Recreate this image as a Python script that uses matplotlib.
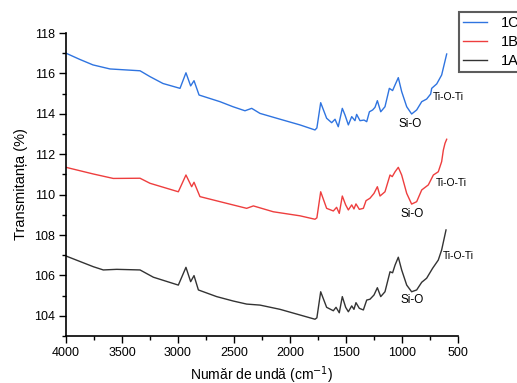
import matplotlib
matplotlib.use("Agg")
import matplotlib.pyplot as plt
from matplotlib.ticker import MultipleLocator

plt.rcParams['font.family'] = ['Liberation Sans', 'DejaVu Sans']

# ---- data ----
wn_1C = [4000, 3880, 3759, 3607, 3339, 3250, 3134, 2982, 2929, 2887, 2857, 2812, 2625, 2509,
         2402, 2342, 2268, 2100, 1911, 1777, 1760, 1726, 1673, 1628, 1598, 1569, 1533, 1509,
         1479, 1449, 1420, 1405, 1375, 1339, 1315, 1291, 1262, 1241, 1220, 1190, 1152,
         1113, 1084, 1062, 1033, 1003, 958, 914, 869, 824, 780, 744, 735, 690, 646, 601]
t_1C = [117.0, 116.7, 116.42, 116.22, 116.13, 115.84, 115.5, 115.26, 116.03, 115.38, 115.64,
        114.93, 114.6, 114.35, 114.15, 114.27, 114.02, 113.75, 113.45, 113.2, 113.3, 114.55,
        113.78, 113.56, 113.73, 113.36, 114.27, 113.94, 113.45, 113.86, 113.66, 113.97,
        113.66, 113.69, 113.61, 114.10, 114.19, 114.32, 114.65, 114.10, 114.35, 115.26,
        115.15, 115.43, 115.79, 115.10, 114.35, 113.99, 114.19, 114.6, 114.73, 114.98,
        115.26, 115.48, 115.92, 116.96]

wn_1B = [4000, 3756, 3578, 3339, 3250, 2997, 2929, 2878, 2857, 2804, 2625, 2387, 2327,
         2149, 1911, 1777, 1760, 1726, 1673, 1613, 1584, 1560, 1533, 1503, 1479, 1449,
         1429, 1411, 1381, 1345, 1321, 1286, 1250, 1220, 1196, 1152, 1107, 1087, 1062,
         1033, 1003, 958, 914, 869, 824, 765, 720, 676, 646, 631, 616, 601]
t_1B = [111.35, 111.02, 110.8, 110.81, 110.56, 110.14, 110.97, 110.39, 110.61, 109.9,
        109.65, 109.32, 109.44, 109.15, 108.95, 108.78, 108.85, 110.14, 109.32, 109.19,
        109.37, 109.07, 109.93, 109.49, 109.24, 109.49, 109.29, 109.54, 109.27, 109.32,
        109.70, 109.82, 110.06, 110.39, 109.93, 110.14, 110.97, 110.89, 111.13, 111.35,
        110.97, 110.06, 109.53, 109.65, 110.23, 110.48, 110.97, 111.13, 111.63, 112.2,
        112.54, 112.74]

wn_1A = [4000, 3756, 3667, 3547, 3339, 3220, 2997, 2929, 2887, 2857, 2818, 2655, 2506,
         2387, 2268, 2089, 1777, 1760, 1726, 1673, 1613, 1589, 1560, 1533, 1503, 1479,
         1449, 1429, 1411, 1381, 1345, 1315, 1286, 1250, 1220, 1190, 1152, 1107, 1084,
         1062, 1033, 1003, 958, 914, 869, 824, 780, 727, 676, 646, 607]
t_1A = [106.96, 106.43, 106.27, 106.30, 106.27, 105.91, 105.52, 106.40, 105.69, 105.99,
        105.28, 104.95, 104.73, 104.58, 104.53, 104.32, 103.83, 103.9, 105.19, 104.42,
        104.25, 104.42, 104.15, 104.95, 104.42, 104.20, 104.49, 104.32, 104.65, 104.37,
        104.29, 104.78, 104.82, 105.03, 105.39, 104.95, 105.19, 106.18, 106.13, 106.51,
        106.9, 106.27, 105.52, 105.19, 105.28, 105.66, 105.86, 106.35, 106.76, 107.26,
        108.25]

series_labels = ['1C', '1B', '1A']
band_labels = ['Si-O', 'Ti-O-Ti']
# annotation anchor points (wavenumber, transmittance) for each series
siO_pos = [(928, 113.5), (913, 109.04), (913, 104.78)]
tiO_pos = [(726, 114.83), (696, 110.59), (634, 106.96)]

colors = ['#2f74e0', '#ee3e3e', '#333333']

fig = plt.figure(figsize=(5.17, 3.83), dpi=100)
ax = fig.add_axes([66/517, 1-336/383, (458-66)/517, (336-33)/383])

lines = []
for wn, t, c, lab in zip([wn_1C, wn_1B, wn_1A], [t_1C, t_1B, t_1A], colors, series_labels):
    ln, = ax.plot(wn, t, color=c, lw=1.0, label=lab)
    lines.append(ln)

for (x, y) in siO_pos:
    ax.text(x, y, band_labels[0], ha='center', va='center', fontsize=8.5)
for (x, y) in tiO_pos:
    ax.text(x, y, band_labels[1], ha='left', va='center', fontsize=7.4)

ax.set_xlim(4000, 500)
ax.set_ylim(103, 118)
ax.xaxis.set_major_locator(MultipleLocator(500))
ax.xaxis.set_minor_locator(MultipleLocator(250))
ax.yaxis.set_major_locator(MultipleLocator(2))
ax.yaxis.set_minor_locator(MultipleLocator(1))
ax.tick_params(which='major', direction='out', length=5, width=1.0, labelsize=9,
               colors='black', pad=3)
ax.tick_params(which='minor', direction='out', length=3, width=1.0)
for s in ['top', 'right']:
    ax.spines[s].set_visible(False)
for s in ['left', 'bottom']:
    ax.spines[s].set_linewidth(1.2)

ax.set_xlabel('Număr de undă (cm$^{-1}$)', fontsize=10, labelpad=4)
ax.set_ylabel('Transmitanța (%)', fontsize=10.5, labelpad=4)

leg = fig.legend(handles=lines, labels=series_labels, loc='upper left',
                 bbox_to_anchor=(459/517, 1-12/383), bbox_transform=fig.transFigure,
                 fontsize=10.5, frameon=True, fancybox=False, handlelength=1.7,
                 handletextpad=0.9, labelspacing=0.35, borderpad=0.25, borderaxespad=0)
leg.get_frame().set_edgecolor('#333333')
leg.get_frame().set_linewidth(1.5)

fig.savefig('out.png', dpi=100)
